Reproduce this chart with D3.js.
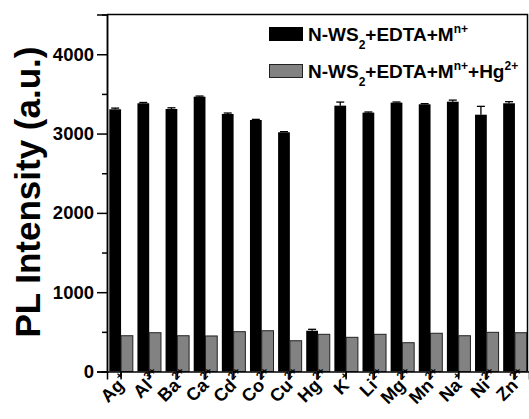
<!DOCTYPE html>
<html>
<head>
<meta charset="utf-8">
<script src="https://cdn.jsdelivr.net/npm/d3@7"></script>
<style>
  html, body { margin: 0; padding: 0; background: #fff; }
  svg { display: block; font-family: "Liberation Sans", Arial, sans-serif; font-weight: bold; }
</style>
</head>
<body>
<div id="chart"></div>
<script>
// ions on the x axis and their charges (drawn as superscripts)
const ions = ['Ag', 'Al', 'Ba', 'Ca', 'Cd', 'Co', 'Cu', 'Hg', 'K', 'Li', 'Mg', 'Mn', 'Na', 'Ni', 'Zn'];
const charges = ['+', '3+', '2+', '2+', '2+', '2+', '2+', '2+', '+', '2+', '2+', '2+', '+', '2+', '2+'];

// N-WS2+EDTA+M(n+)
const plMetal = [3306, 3382, 3310, 3465, 3247, 3171, 3016, 514, 3352, 3264, 3390, 3369, 3402, 3238, 3382];
const plMetalErr = [15, 10, 15, 8, 12, 8, 8, 18, 45, 8, 8, 8, 20, 105, 20];
// N-WS2+EDTA+M(n+)+Hg(2+)
const plMetalHg = [451, 489, 451, 448, 502, 514, 388, 469, 431, 469, 363, 482, 451, 494, 489];

const yMajor = [0, 1000, 2000, 3000, 4000];
const yMinor = [500, 1500, 2500, 3500];

const W = 529, H = 419;
const plotL = 107, plotR = 529, plotT = 14.6, plotB = 371.5;

const svg = d3.select('#chart').append('svg')
  .attr('width', W)
  .attr('height', H);

const x0 = d3.scaleBand().domain(ions).range([plotL, plotR]).padding(0);
const x1 = d3.scaleBand().domain(['metal', 'hg'])
  .range([2.3, x0.bandwidth() - 2.3]);
const y = d3.scaleLinear().domain([0, 4500]).range([plotB, plotT]);

// bars
const g = svg.append('g');
ions.forEach((ion, i) => {
  const gx = x0(ion);
  // black bar + error bar
  const bx = gx + x1('metal');
  const bw = x1.bandwidth();
  g.append('rect')
    .attr('x', bx).attr('y', y(plMetal[i]))
    .attr('width', bw).attr('height', y(0) - y(plMetal[i]))
    .attr('fill', '#000');
  const cx = bx + bw / 2;
  const yt = y(plMetal[i] + plMetalErr[i]);
  g.append('line')
    .attr('x1', cx).attr('x2', cx)
    .attr('y1', y(plMetal[i])).attr('y2', yt)
    .attr('stroke', '#000').attr('stroke-width', 1.3);
  g.append('line')
    .attr('x1', cx - 4).attr('x2', cx + 4)
    .attr('y1', yt).attr('y2', yt)
    .attr('stroke', '#000').attr('stroke-width', 1.3);
  // gray bar
  g.append('rect')
    .attr('x', gx + x1('hg')).attr('y', y(plMetalHg[i]))
    .attr('width', x1.bandwidth()).attr('height', y(0) - y(plMetalHg[i]))
    .attr('fill', '#828282')
    .attr('stroke', '#222').attr('stroke-width', 1);
});

// y axis
const yAxis = svg.append('g')
  .attr('transform', `translate(${plotL},0)`)
  .call(d3.axisLeft(y).tickValues(yMajor).tickSize(10).tickPadding(3).tickFormat(d3.format('d')));
yAxis.append('g')
  .call(d3.axisLeft(y).tickValues(yMinor).tickSize(5).tickFormat(''));
yAxis.selectAll('text').attr('font-size', 18.5).attr('font-weight', 'bold')
  .attr('font-family', '"Liberation Sans", Arial, sans-serif').attr('fill', '#000');

// x axis: major ticks at ion centres, minor at group boundaries
const xAxis = svg.append('g')
  .attr('transform', `translate(0,${plotB})`)
  .call(d3.axisBottom(x0).tickSize(8).tickFormat(''));
xAxis.append('g')
  .call(d3.axisBottom(x0).tickSize(5).tickFormat('').offset(-x0.bandwidth() / 2));
xAxis.selectAll('.domain').filter((d, i) => i > 0).remove();

svg.selectAll('.domain, .tick line').attr('stroke', '#000').attr('stroke-width', 1.5);

// rotated ion labels: element name ends at the anchor, charge sits above-right of it
ions.forEach((ion, i) => {
  const cx = x0(ion) + x0.bandwidth() / 2;
  const lg = svg.append('g')
    .attr('class', 'ion-label')
    .attr('transform', `translate(${cx + 4},${plotB + 15})rotate(-45)`);
  lg.append('text')
    .attr('text-anchor', 'end')
    .attr('font-size', 18)
    .text(ion);
  lg.append('text')
    .attr('x', 0.5).attr('y', -8)
    .attr('font-size', 11)
    .text(charges[i]);
});

// frame
svg.append('path')
  .attr('d', `M${plotL},${plotT}H${W - 1.5}V${plotB}`)
  .attr('fill', 'none').attr('stroke', '#000').attr('stroke-width', 1.5);

// y label
svg.append('text')
  .attr('transform', `translate(40,${(plotT + plotB) / 2 - 1}) rotate(-90)`)
  .attr('text-anchor', 'middle')
  .attr('font-size', 35)
  .text('PL Intensity (a.u.)');

// legend
const legend = [
  { fill: '#000', stroke: '#000', parts: [['N-WS'], ['2', 'sub'], ['+EDTA+M'], ['n+', 'sup']] },
  { fill: '#828282', stroke: '#222', parts: [['N-WS'], ['2', 'sub'], ['+EDTA+M'], ['n+', 'sup'], ['+Hg'], ['2+', 'sup']] }
];
legend.forEach((item, k) => {
  const base = 40.5 + k * 37;
  svg.append('rect')
    .attr('x', 269.5).attr('y', base - 13)
    .attr('width', 33).attr('height', 13)
    .attr('fill', item.fill).attr('stroke', item.stroke).attr('stroke-width', 1);
  const t = svg.append('text').attr('x', 308).attr('y', base).attr('font-size', 19);
  let shift = 0;
  item.parts.forEach(([s, kind]) => {
    const target = kind === 'sub' ? 8 : kind === 'sup' ? -8 : 0;
    t.append('tspan')
      .attr('dy', target - shift)
      .attr('font-size', kind ? 12 : 19)
      .text(s);
    shift = target;
  });
});
</script>
</body>
</html>
